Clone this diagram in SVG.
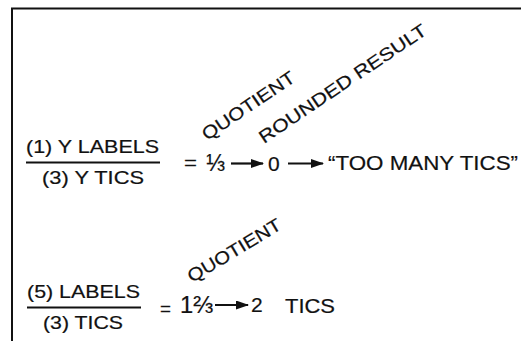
<svg xmlns="http://www.w3.org/2000/svg" width="521" height="341" viewBox="0 0 521 341">
<style>
text { font-family: "Liberation Sans", Arial, Helvetica, sans-serif; fill: #111; stroke: #111; stroke-width: 0.2; }
.fr { font-size: 18.5px; }
.big { font-size: 21px; }
.rot { font-size: 18px; }
.eq { font-size: 18px; }
.fx { font-size: 23px; }
.ln { stroke: #111; stroke-width: 2; fill: none; }
.ar { stroke: #111; stroke-width: 2.2; fill: none; marker-end: url(#ah); }
</style>
<defs>
<marker id="ah" viewBox="0 0 13 9" refX="12" refY="4.5" markerWidth="13" markerHeight="9" markerUnits="userSpaceOnUse" orient="auto">
<path d="M0,0 L13,4.5 L0,9 Z" fill="#111"/>
</marker>
</defs>
<rect width="521" height="341" fill="#fff"/>
<g id="frame">
<path class="ln" d="M12,341 V8.5 H521" stroke-width="2.2"/>
</g>
<g id="eq1">
<text class="fr" x="26" y="153" textLength="133" lengthAdjust="spacingAndGlyphs">(1) Y LABELS</text>
<line class="ln" x1="26" y1="162.5" x2="160" y2="162.5" stroke-width="1.6"/>
<text class="fr" x="42" y="184" textLength="102" lengthAdjust="spacingAndGlyphs">(3) Y TICS</text>
<text class="eq" x="184" y="169" textLength="13" lengthAdjust="spacingAndGlyphs">=</text>
<text class="fx" x="206" y="171" textLength="19" lengthAdjust="spacingAndGlyphs">⅓</text>
<text class="big" x="268" y="170.5">0</text>
<text class="big" x="328" y="169.5" textLength="190" lengthAdjust="spacingAndGlyphs">“TOO MANY TICS”</text>
<text class="rot" transform="translate(207,141) rotate(-34)" textLength="108" lengthAdjust="spacingAndGlyphs">QUOTIENT</text>
<text class="rot" transform="translate(264,144) rotate(-34)" textLength="198" lengthAdjust="spacingAndGlyphs">ROUNDED RESULT</text>
</g>
<g id="eq2">
<text class="fr" x="27" y="298" textLength="113" lengthAdjust="spacingAndGlyphs">(5) LABELS</text>
<line class="ln" x1="27" y1="307.5" x2="141" y2="307.5" stroke-width="1.6"/>
<text class="fr" x="43" y="329" textLength="80" lengthAdjust="spacingAndGlyphs">(3) TICS</text>
<text class="eq" x="160" y="315" textLength="11" lengthAdjust="spacingAndGlyphs">=</text>
<text class="fx" x="180" y="313" textLength="33" lengthAdjust="spacingAndGlyphs">1⅔</text>
<text class="big" x="251" y="312">2</text>
<text class="big" x="285" y="312.5" textLength="50" lengthAdjust="spacingAndGlyphs">TICS</text>
<text class="rot" transform="translate(192,283) rotate(-31)" textLength="106" lengthAdjust="spacingAndGlyphs">QUOTIENT</text>
</g>
<g id="connectors">
<line class="ar" x1="231" y1="163.5" x2="263" y2="163.5"/>
<line class="ar" x1="288" y1="163.5" x2="323" y2="163.5"/>
<line class="ar" x1="215" y1="305" x2="248" y2="305"/>
</g>
</svg>
